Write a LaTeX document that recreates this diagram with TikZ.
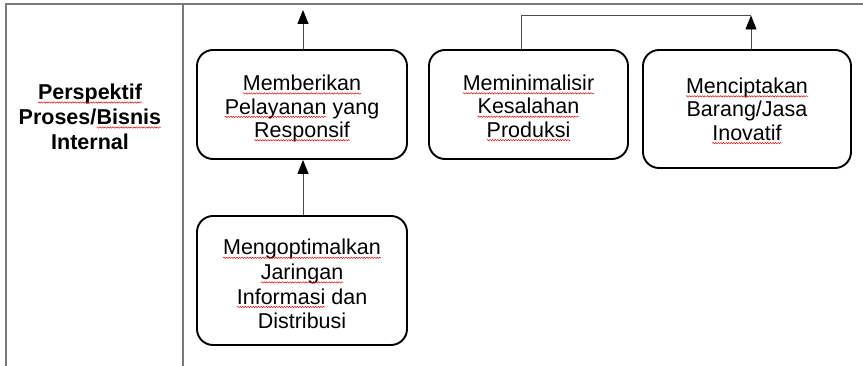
\documentclass[tikz,border=0pt]{standalone}
\usepackage{fontspec}
\setmainfont{Liberation Sans}
\usetikzlibrary{arrows.meta,decorations.pathmorphing}

% word marked with a red wavy underline (resets the keys of the enclosing node)
\newcommand\spl[1]{\tikz[baseline=(sw.base),x=1pt,y=1pt,sharp corners,line width=0.45pt]{%
  \node[inner sep=0pt,outer sep=0pt,anchor=base,draw=none,fill=none,
        minimum width=0pt,minimum height=0pt,align=left](sw){#1};%
  \draw[red!90!black,decorate,
        decoration={snake,amplitude=0.7pt,segment length=2.6pt}]
    ([yshift=-2.8pt]sw.base west)--([yshift=-2.8pt]sw.base east);}}

\tikzset{
  goalbox/.style={draw=black,line width=1.9pt,rounded corners=16pt,inner sep=0pt},
  goaltext/.style={align=center,inner sep=0pt,font=\fontsize{21.5}{23.4}\selectfont},
  rule/.style={draw=black!52,line width=1.2pt},
  link/.style={draw=black!70,line width=0.9pt},
  uparrow/.style={link,-{Triangle[length=14pt,width=11pt,color=black]}},
  sidelabel/.style={align=center,font=\bfseries\fontsize{21.5}{25}\selectfont}
}

\begin{document}
\begin{tikzpicture}[x=1pt,y=-1pt]
\useasboundingbox (0,0) rectangle (863,366);
\fill[white] (0,0) rectangle (863,366);

% table frame
\coordinate (tl) at (6,4);
\coordinate (tr) at (863,4);
\coordinate (bl) at (6,366);
\coordinate (mt) at (183,4);
\coordinate (mb) at (183,366);
\draw[rule] (bl) -- (tl) -- (tr);
\draw[rule] (mt) -- (mb);

% row label
\node[sidelabel] (persp) at (90,117) {\spl{Perspektif}\\Proses/\spl{Bisnis}\\Internal};

% objective boxes
\node[goalbox,minimum width=210pt,minimum height=109pt] (b1) at (302,104.5) {};
\node[goalbox,minimum width=199pt,minimum height=109pt] (b2) at (528.5,104.5) {};
\node[goalbox,minimum width=208pt,minimum height=118pt] (b3) at (747,109) {};
\node[goalbox,minimum width=210pt,minimum height=129pt] (b4) at (302,280.5) {};

% their texts, set a little below the middle
\node[goaltext] (b1t) at ([yshift=-4pt]b1.center)
  {\spl{Memberikan}\\\spl{Pelayanan} yang\\\spl{Responsif}};
\node[goaltext] (b2t) at ([yshift=-3.5pt]b2.center)
  {\spl{Meminimalisir}\\\spl{Kesalahan}\\\spl{Produksi}};
\node[goaltext] (b3t) at ([yshift=-2pt]b3.center)
  {\spl{Menciptakan}\\Barang/Jasa\\\spl{Inovatif}};
\node[goaltext,font=\fontsize{21.5}{24.6}\selectfont] (b4t) at ([yshift=-3.7pt]b4.center)
  {\spl{Mengoptimalkan}\\\spl{Jaringan}\\\spl{Informasi} dan\\Distribusi};

% links
\coordinate (t1) at (303,10);
\coordinate (j) at (751,15.5);
\draw[uparrow] ([xshift=1pt]b1.north) -- (t1);
\draw[uparrow] ([xshift=1pt]b4.north) -- ([xshift=1pt]b1.south);
\draw[uparrow] ([xshift=4pt]b3.north) -- (j);
\draw[link] ([xshift=-7.5pt]b2.north) |- (j);
\end{tikzpicture}
\end{document}
